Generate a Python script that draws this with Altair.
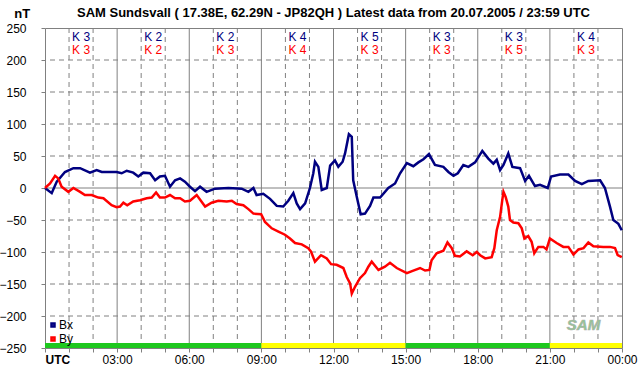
import altair as alt
import pandas as pd

# ---------------- data ----------------
bx_hours = [0, 0.28, 0.49, 0.83, 1.18, 1.46, 1.87, 2.15, 2.36, 2.98,
            3.19, 3.4, 3.67, 3.88, 4.09, 4.37, 4.58, 4.78, 4.99, 5.2,
            5.41, 5.62, 5.82, 6.03, 6.24, 6.45, 6.72, 7.07, 7.63, 8.18,
            8.46, 8.67, 8.8, 9.08, 9.36, 9.64, 9.91, 10.12, 10.33, 10.47,
            10.61, 10.82, 11.02, 11.16, 11.23, 11.37, 11.51, 11.72, 11.86, 12.06,
            12.2, 12.38, 12.48, 12.64, 12.76, 12.82, 12.97, 13.13, 13.31, 13.52,
            13.66, 13.94, 14.28, 14.56, 14.77, 15.05, 15.32, 15.53, 15.74, 15.97,
            16.22, 16.57, 16.78, 16.99, 17.17, 17.4, 17.61, 17.89, 18.19, 18.44,
            18.65, 18.79, 18.93, 19.07, 19.27, 19.44, 19.76, 19.97, 20.13, 20.38,
            20.59, 20.91, 21.05, 21.42, 21.77, 22.05, 22.33, 22.6, 23.09, 23.29,
            23.5, 23.64, 23.85, 23.99]
bx_nT = [0, -8, 10, 25, 31, 31, 24, 28, 25, 25,
         23, 27, 24, 18, 24, 23, 12, 18, 19, 2,
         12, 15, 10, 2, -5, 2, -6, -1, 0, -1,
         -6, 0, -11, -9, -17, -28, -29, -20, -8, -24,
         -33, -24, 0, 23, 41, 33, -3, 0, 35, 43,
         33, 41, 54, 84, 80, 12, -14, -41, -40, -28,
         -15, -15, 0, 7, 23, 39, 34, 40, 45, 53,
         36, 33, 25, 19, 23, 36, 33, 40, 58, 46,
         38, 44, 28, 36, 54, 33, 31, 11, 19, 3,
         5, 0, 18, 21, 21, 11, 6, 11, 12, 0,
         -29, -50, -56, -66]

by_hours = [0, 0.21, 0.42, 0.55, 0.69, 0.97, 1.18, 1.46, 1.66, 1.94,
            2.22, 2.43, 2.77, 2.98, 3.12, 3.26, 3.42, 3.67, 3.95, 4.23,
            4.44, 4.62, 4.78, 4.99, 5.2, 5.41, 5.62, 5.82, 6.03, 6.31,
            6.66, 6.93, 7.21, 7.56, 7.77, 7.97, 8.25, 8.46, 8.67, 8.99,
            9.15, 9.43, 9.71, 9.98, 10.19, 10.4, 10.68, 10.95, 11.06, 11.23,
            11.48, 11.72, 11.9, 12.13, 12.41, 12.55, 12.69, 12.76, 12.9, 13.1,
            13.31, 13.45, 13.59, 13.87, 14.14, 14.35, 14.63, 15.05, 15.32, 15.6,
            15.81, 15.99, 16.08, 16.29, 16.57, 16.74, 16.92, 17.05, 17.26, 17.54,
            17.79, 17.96, 18.1, 18.31, 18.58, 18.69, 18.79, 18.93, 19.02, 19.07,
            19.16, 19.27, 19.34, 19.48, 19.69, 19.83, 19.94, 20.1, 20.24, 20.35,
            20.52, 20.73, 20.86, 21.0, 21.28, 21.56, 21.77, 21.98, 22.19, 22.4,
            22.6, 22.81, 23.22, 23.5, 23.71, 23.82, 23.99]
by_nT = [0, 7, 19, 15, 2, -6, 0, -6, -11, -11,
         -15, -16, -27, -30, -29, -23, -27, -21, -19, -16,
         -15, -7, -15, -15, -11, -16, -16, -21, -20, -11,
         -29, -23, -20, -21, -20, -25, -27, -33, -40, -41,
         -53, -63, -68, -73, -79, -86, -88, -94, -99, -115,
         -105, -110, -119, -120, -125, -139, -149, -165, -154, -141,
         -133, -123, -115, -128, -123, -117, -125, -133, -129, -125,
         -129, -128, -113, -102, -98, -85, -94, -106, -107, -99,
         -105, -100, -105, -110, -108, -94, -66, -45, -19, -6,
         -14, -29, -50, -54, -55, -63, -79, -75, -84, -102,
         -92, -92, -96, -79, -86, -92, -92, -104, -96, -94,
         -85, -91, -92, -92, -94, -105, -108]

k_centres = [1.5, 4.5, 7.5, 10.5, 13.5, 16.5, 19.5, 22.5]
k_bx = [3, 2, 2, 4, 5, 3, 3, 4]
k_by = [3, 2, 3, 4, 3, 3, 5, 3]

strip_start = [0, 9, 15, 21]
strip_end = [9, 15, 21, 24]
strip_colour = ["#1ec81e", "#ffff00", "#1ec81e", "#ffff00"]

hour_ticks = list(range(0, 25))
nT_ticks = list(range(-250, 251, 50))

title_text = "SAM Sundsvall ( 17.38E, 62.29N - JP82QH ) Latest data from 20.07.2005 / 23:59 UTC"
unit_text = "nT"

# ---------------- tables ----------------
assert len(bx_hours) == len(bx_nT) and len(by_hours) == len(by_nT)
lines_df = pd.concat([
    pd.DataFrame({"hour": bx_hours, "nT": bx_nT, "series": "Bx"}),
    pd.DataFrame({"hour": by_hours, "nT": by_nT, "series": "By"}),
])
minor_v = pd.DataFrame({"hour": [h for h in hour_ticks if h % 3 != 0]})
major_v = pd.DataFrame({"hour": [h for h in hour_ticks if h % 3 == 0 and 0 < h < 24]})
minor_h = pd.DataFrame({"nT": [v for v in nT_ticks if v != 0 and abs(v) < 250]})
zero_h = pd.DataFrame({"nT": [0]})
k_df = pd.DataFrame({
    "hour": k_centres,
    "kbx": ["K " + str(k) for k in k_bx],
    "kby": ["K " + str(k) for k in k_by],
})
strip_df = pd.DataFrame({"start": strip_start, "end": strip_end, "colour": strip_colour})

FONT = "Liberation Sans"
GRID = "#808080"

x_scale = alt.Scale(domain=[0, 24], nice=False, zero=False)
y_scale = alt.Scale(domain=[-250, 250], nice=False, zero=False)

x_axis = alt.Axis(
    values=hour_ticks, grid=False, domain=False, title=None,
    tickSize=4, tickColor=GRID, labelFont=FONT, labelFontSize=12, labelColor="black",
    labelPadding=2, labelFlush=False, labelOverlap=False,
    labelExpr="datum.value == 0 ? 'UTC' : (datum.value % 3 != 0 ? '' : (((datum.value % 24) < 10 ? '0' : '') + (datum.value % 24) + ':00'))",
    labelFontWeight={"condition": {"test": "datum.value == 0", "value": "bold"}, "value": "normal"},
    labelAlign={"condition": {"test": "datum.value == 0", "value": "left"}, "value": "center"},
)
y_axis = alt.Axis(
    values=nT_ticks, grid=False, domain=False, title=None,
    tickSize=4, tickColor=GRID, labelFont=FONT, labelFontSize=12, labelColor="black",
    labelPadding=15,
)

X = lambda f="hour": alt.X(f"{f}:Q", scale=x_scale, axis=x_axis)
Y = lambda f="nT": alt.Y(f"{f}:Q", scale=y_scale, axis=y_axis)

grid_minor_v = alt.Chart(minor_v).mark_rule(color=GRID, strokeWidth=1, strokeDash=[5, 4]).encode(x=X())
grid_major_v = alt.Chart(major_v).mark_rule(color=GRID, strokeWidth=1).encode(x=X())
grid_minor_h = alt.Chart(minor_h).mark_rule(color=GRID, strokeWidth=1, strokeDash=[5, 4]).encode(y=Y())
grid_zero = alt.Chart(zero_h).mark_rule(color=GRID, strokeWidth=1).encode(y=Y())

strip = alt.Chart(strip_df).mark_rect().encode(
    x=X("start"), x2="end",
    y=alt.datum(-250, scale=y_scale, axis=y_axis), y2=alt.datum(-242),
    color=alt.Color("colour:N", scale=None),
)

lines = alt.Chart(lines_df).mark_line(strokeWidth=2.5, strokeJoin="miter").encode(
    x=X(), y=Y(),
    color=alt.Color("series:N",
                    scale=alt.Scale(domain=["Bx", "By"], range=["#000080", "#ff0000"]),
                    legend=alt.Legend(title=None, orient="none", legendX=2, legendY=291,
                                      symbolType="square", symbolSize=9, symbolStrokeWidth=2.5,
                                      labelFont=FONT, labelFontSize=12, labelOffset=0,
                                      rowPadding=0, padding=0)),
    detail="series:N",
)

k_top = alt.Chart(k_df).mark_text(font=FONT, fontSize=12, color="#000080", baseline="middle").encode(
    x=X(), y=alt.datum(236, scale=y_scale, axis=y_axis), text="kbx:N")
k_bottom = alt.Chart(k_df).mark_text(font=FONT, fontSize=12, color="#ff0000", baseline="middle").encode(
    x=X(), y=alt.datum(216, scale=y_scale, axis=y_axis), text="kby:N")

unit = alt.Chart(pd.DataFrame({"t": [unit_text]})).mark_text(
    font=FONT, fontSize=13, fontWeight="bold", color="black", align="center", baseline="alphabetic",
).encode(x=alt.datum(-0.95, scale=x_scale, axis=x_axis),
         y=alt.datum(265, scale=y_scale, axis=y_axis), text="t:N")

logo = alt.Chart(pd.DataFrame({"t": ["SAM"]})).mark_text(
    font=FONT, fontSize=15, fontStyle="italic", fontWeight="bold", color="#8fc88f",
    stroke="#b0b0b0", strokeWidth=0.6,
).encode(x=alt.datum(22.4, scale=x_scale, axis=x_axis), y=alt.datum(-214, scale=y_scale, axis=y_axis), text="t:N")

chart = alt.layer(
    grid_minor_v, grid_major_v, grid_minor_h, grid_zero, strip, lines, k_top, k_bottom, logo, unit
).properties(
    width=577, height=320,
    autosize=alt.AutoSizeParams(type="none"),
    padding={"left": 45, "top": 28, "right": 20, "bottom": 28},
    title=alt.TitleParams(text=title_text, font=FONT, fontSize=13, fontWeight="bold",
                          anchor="middle", offset=10, dy=22, color="black"),
    background="white",
).configure_view(stroke=GRID, strokeWidth=1)

chart.save("out.html", embed_options={"renderer": "svg", "actions": False})
